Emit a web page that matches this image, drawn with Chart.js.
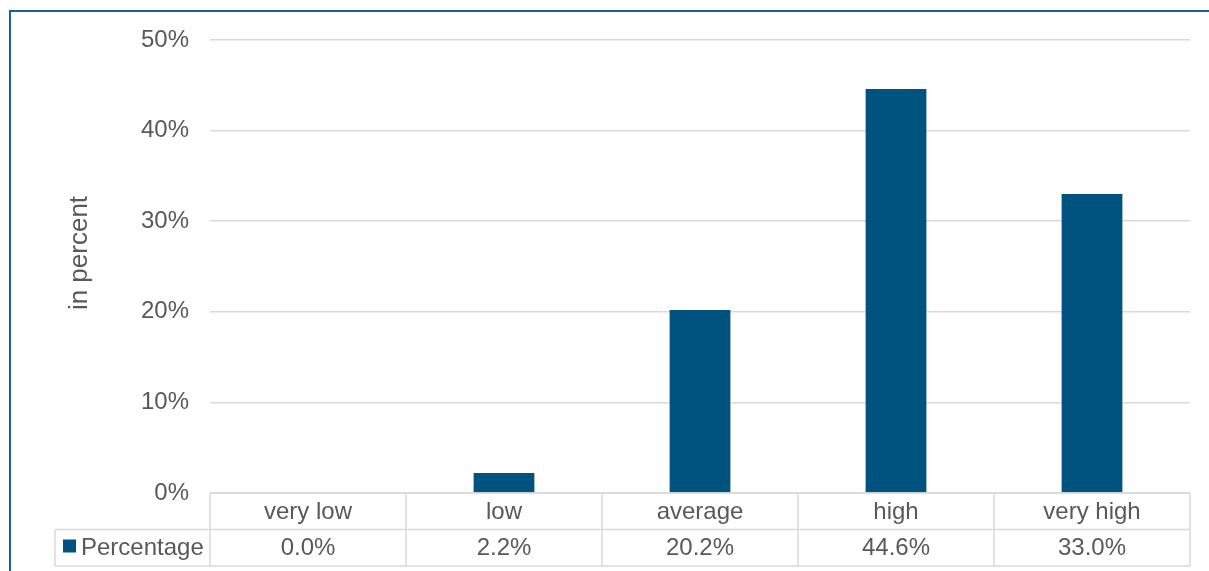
<!DOCTYPE html>
<html>
<head>
<meta charset="utf-8">
<script src="https://cdn.jsdelivr.net/npm/chart.js@4.4.1/dist/chart.umd.min.js"></script>
<style>
  html, body { margin: 0; padding: 0; background: #fff; }
  #wrap { position: relative; width: 1209px; height: 571px; overflow: hidden; }
  #frame { position: absolute; left: 9px; top: 10px; width: 1300px; height: 700px; border: 2px solid #1a5f96; box-sizing: border-box; }
  #wrap canvas { position: absolute; left: 0; top: 0; }
</style>
</head>
<body>
<div id="wrap">
  <div id="frame"></div>
  <canvas id="ratingBar" width="1209" height="571"></canvas>
</div>
<script>
const categories = ['very low', 'low', 'average', 'high', 'very high'];
const percentages = [0.0, 2.2, 20.2, 44.6, 33.0];
const yTicks = [0, 10, 20, 30, 40, 50];
const seriesName = 'Percentage';
const axisTitle = 'in percent';

const barColor = '#00527f';
const textColor = '#595959';
const lineColor = '#d9d9d9';
const fontFamily = '"Liberation Sans", Arial, sans-serif';

// draws the axis title and the data table under the plot
const dataTable = {
  id: 'dataTable',
  afterDraw(chart) {
    const ctx = chart.ctx;
    const area = chart.chartArea;
    const x = chart.scales.x;
    const colW = (area.right - area.left) / categories.length;
    const top = area.bottom;
    const rowH = 36.5;
    const mid = top + rowH;
    const bottom = top + rowH * 2;
    const legendLeft = 55;

    ctx.save();
    ctx.strokeStyle = lineColor;
    ctx.lineWidth = 1.5;
    ctx.beginPath();
    ctx.moveTo(area.left, top); ctx.lineTo(area.right, top);
    ctx.moveTo(legendLeft, mid); ctx.lineTo(area.right, mid);
    ctx.moveTo(legendLeft, bottom); ctx.lineTo(area.right, bottom);
    ctx.moveTo(legendLeft, mid); ctx.lineTo(legendLeft, bottom);
    for (let i = 0; i <= categories.length; i++) {
      const px = area.left + colW * i;
      ctx.moveTo(px, top); ctx.lineTo(px, bottom);
    }
    ctx.stroke();

    ctx.fillStyle = textColor;
    ctx.font = '24px ' + fontFamily;
    ctx.textAlign = 'center';
    ctx.textBaseline = 'middle';
    categories.forEach((c, i) => {
      const cx = x.getPixelForValue(i);
      ctx.fillText(c, cx, top + rowH / 2 + 1);
      ctx.fillText(percentages[i].toFixed(1) + '%', cx, mid + rowH / 2 + 1);
    });

    // legend key in the first cell
    ctx.fillStyle = barColor;
    ctx.fillRect(63, mid + 10, 13, 13);
    ctx.fillStyle = textColor;
    ctx.textAlign = 'left';
    ctx.fillText(seriesName, 81, mid + rowH / 2 + 1);

    // rotated y title
    ctx.translate(80, 253);
    ctx.rotate(-Math.PI / 2);
    ctx.textAlign = 'center';
    ctx.font = '26px ' + fontFamily;
    ctx.fillText(axisTitle, 0, 0);
    ctx.restore();
  }
};

const ctx = document.getElementById('ratingBar').getContext('2d');
new Chart(ctx, {
  type: 'bar',
  data: {
    labels: categories,
    datasets: [{
      label: seriesName,
      data: percentages,
      backgroundColor: barColor,
      categoryPercentage: 1,
      barPercentage: 0.31
    }]
  },
  options: {
    responsive: false,
    animation: false,
    layout: { padding: { top: 40, right: 19, bottom: 78, left: 0 } },
    plugins: {
      legend: { display: false },
      tooltip: { enabled: false }
    },
    scales: {
      x: { display: false },
      y: {
        min: 0,
        max: yTicks[yTicks.length - 1],
        afterFit: s => { s.width = 210; },
        afterBuildTicks: s => { s.ticks = yTicks.map(v => ({ value: v })); },
        border: { display: false },
        grid: { color: lineColor, lineWidth: 1.5, drawTicks: false },
        ticks: {
          padding: 21,
          color: textColor,
          font: { family: fontFamily, size: 24 },
          callback: v => v + '%'
        }
      }
    }
  },
  plugins: [dataTable]
});
</script>
</body>
</html>
